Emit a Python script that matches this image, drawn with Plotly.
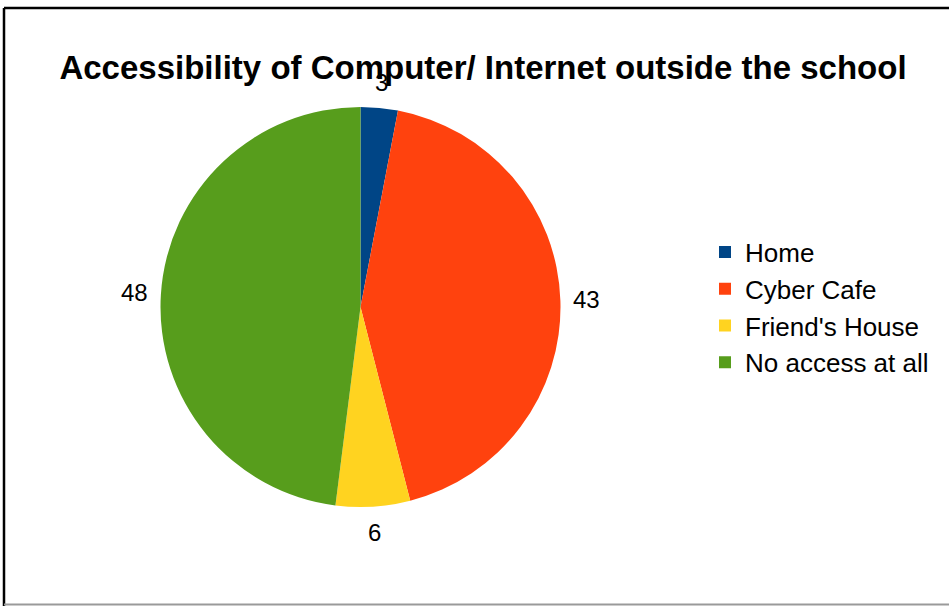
import math
import plotly.graph_objects as go

# Survey responses: where students can reach a computer / the internet
categories = ["Home", "Cyber Cafe", "Friend's House", "No access at all"]
counts = [3, 43, 6, 48]
colors = ["#004586", "#ff420e", "#ffd320", "#579d1c"]

W, H = 949, 606
FONT = "Liberation Sans, Arial, sans-serif"

cx, cy, r = 360.5, 307, 200      # pie centre and radius, in pixels
label_r = 226                    # value labels are centred on this radius

fig = go.Figure(
    go.Pie(
        labels=categories,
        values=counts,
        sort=False,
        direction="clockwise",
        rotation=0,
        marker=dict(colors=colors, line=dict(width=0)),
        textinfo="none",
        domain=dict(
            x=[(cx - r) / W, (cx + r) / W],
            y=[1 - (cy + r) / H, 1 - (cy - r) / H],
        ),
        hoverinfo="label+value",
    )
)

# Value labels centred outside each slice, at the slice's mid angle
# (angles measured clockwise from 12 o'clock, like the slices)
total = sum(counts)
annotations = []
running = 0
for value in counts:
    mid = (running + value / 2) / total * 2 * math.pi
    running += value
    px = cx + label_r * math.sin(mid)
    py = cy - label_r * math.cos(mid)
    annotations.append(
        dict(
            x=px / W, y=1 - py / H, xref="paper", yref="paper",
            text=str(value), showarrow=False,
            xanchor="center", yanchor="middle",
            font=dict(family=FONT, size=24, color="#000000"),
        )
    )

# Frame around the chart area
shapes = [
    dict(type="line", xref="paper", yref="paper", x0=4 / W, x1=1.01, y0=1 - 8 / H, y1=1 - 8 / H,
         line=dict(color="#000000", width=2.5)),
    dict(type="line", xref="paper", yref="paper", x0=4 / W, x1=4 / W, y0=1 - 8 / H, y1=-0.01,
         line=dict(color="#000000", width=2.5)),
    dict(type="line", xref="paper", yref="paper", x0=4 / W, x1=1.01, y0=1 - 604.5 / H, y1=1 - 604.5 / H,
         line=dict(color="#9a9a9a", width=2)),
]

fig.update_layout(
    width=W,
    height=H,
    margin=dict(l=0, r=0, t=0, b=0),
    paper_bgcolor="#ffffff",
    plot_bgcolor="#ffffff",
    title=dict(
        text="<b>Accessibility of Computer/ Internet outside the school</b>",
        x=483 / W,
        xanchor="center",
        y=1 - 67 / H,
        yanchor="middle",
        font=dict(family=FONT, size=33, color="#000000"),
    ),
    legend=dict(
        x=705 / W,
        xanchor="left",
        y=1 - 307.5 / H,
        yanchor="middle",
        font=dict(family=FONT, size=26, color="#000000"),
        bgcolor="rgba(0,0,0,0)",
    ),
    annotations=annotations,
    shapes=shapes,
)

fig.write_html("out.html")
